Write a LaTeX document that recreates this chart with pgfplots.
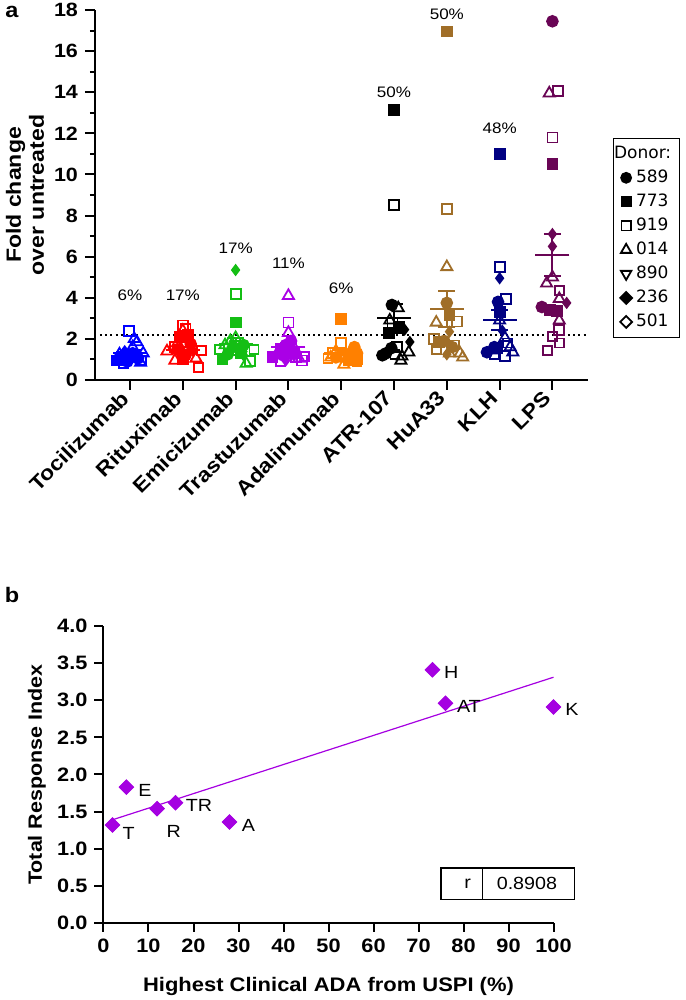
\documentclass[border=0pt]{standalone}
\usepackage{fontspec}
\setmainfont{Liberation Sans}[FakeStretch=1.12]
\newfontfamily\dejavu{DejaVu Sans}
\usepackage{pgfplots}
\pgfplotsset{compat=1.18}

\definecolor{cTOC}{RGB}{0,0,255}
\definecolor{cRIT}{RGB}{255,0,0}
\definecolor{cEMI}{RGB}{20,190,20}
\definecolor{cTRA}{RGB}{170,0,230}
\definecolor{cADA}{RGB}{255,128,0}
\definecolor{cATR}{RGB}{0,0,0}
\definecolor{cHUA}{RGB}{160,110,40}
\definecolor{cKLH}{RGB}{0,0,130}
\definecolor{cLPS}{RGB}{105,5,85}
\definecolor{cB}{RGB}{165,0,225}

\pgfplotsset{
  donors/.style={
    scatter, only marks, scatter src=explicit symbolic, line width=0.9pt,
    scatter/classes={
      A={mark=*, mark size=2.7pt},
      B={mark=square*, mark size=2.5pt},
      C={mark=square, mark size=2.5pt},
      D={mark=triangle, mark size=3.2pt},
      E={mark=triangle, mark size=3.2pt, mark options={rotate=180}},
      F={mark=diamond*, mark size=2.4pt},
      G={mark=square, mark size=2.25pt, mark options={rotate=45}}
    }
  },
  meanbar/.style={
    only marks, mark=-, mark size=8.5pt, line width=1pt,
    error bars/y dir=both, error bars/y explicit,
    error bars/error bar style={line width=1pt},
    error bars/error mark options={rotate=90, mark size=4.25pt, line width=1pt}
  },
  donorleg/.style={
    only marks, black, line width=0.9pt,
    legend image code/.code={\draw[mark repeat=2,mark phase=2,##1] plot coordinates {(0cm,0cm) (0.15cm,0cm) (0.3cm,0cm)};}
  }
}

\begin{document}
\begin{tikzpicture}
\useasboundingbox (0,0) rectangle (342.5pt,500pt);

\node[font=\bfseries\fontsize{10.5}{12}\selectfont] at (6pt,494pt) {a};
\node[font=\bfseries\fontsize{10.5}{12}\selectfont] at (6pt,202.5pt) {b};

% ---------------- panel a ----------------
\begin{axis}[
  at={(47.5pt,310pt)}, anchor=south west,
  scale only axis, width=246.5pt, height=185pt,
  xmin=-0.663, xmax=8.674, ymin=0, ymax=18,
  axis x line*=bottom, axis y line*=left,
  axis line style={line width=1pt},
  tick style={line width=1pt, black},
  tick align=outside,
  major tick length=5pt, minor tick length=2.5pt,
  xtick={0,1,2,3,4,5,6,7,8},
  xticklabels={Tocilizumab,Rituximab,Emicizumab,Trastuzumab,Adalimumab,ATR-107,HuA33,KLH,LPS},
  ytick={0,2,4,6,8,10,12,14,16,18},
  minor ytick={1,3,5,7,9,11,13,15,17},
  xticklabel style={rotate=45, anchor=east, font=\bfseries\fontsize{10.2}{12}\selectfont},
  yticklabel style={font=\bfseries\fontsize{9.6}{11}\selectfont},
  /pgf/number format/assume math mode=true,
  ylabel={Fold change\\over untreated},
  every axis y label/.style={at={(axis description cs:-0.142,0.5)}, rotate=90, anchor=center,
    align=center, font=\bfseries\fontsize{10.3}{11.5}\selectfont},
  clip=false,
  legend cell align=left,
  legend style={at={(1.0507,0.654)}, anchor=north west, draw=black, line width=0.6pt,
    font=\dejavu\fontsize{8.5}{10}\selectfont, row sep=0.6pt,
    nodes={inner ysep=1.8pt},
    inner xsep=2pt, inner ysep=2pt},
]
\addlegendimage{empty legend}\addlegendentry{\hspace*{-11pt}Donor:}
\addlegendimage{donorleg, mark=*, mark size=2.5pt}\addlegendentry{589}
\addlegendimage{donorleg, mark=square*, mark size=2.3pt}\addlegendentry{773}
\addlegendimage{donorleg, mark=square, mark size=2.3pt}\addlegendentry{919}
\addlegendimage{donorleg, mark=triangle, mark size=3pt}\addlegendentry{014}
\addlegendimage{donorleg, mark=triangle, mark size=3pt, mark options={rotate=180}}\addlegendentry{890}
\addlegendimage{donorleg, mark=square*, mark size=2.1pt, mark options={rotate=45}}\addlegendentry{236}
\addlegendimage{donorleg, mark=square, mark size=2.1pt, mark options={rotate=45}}\addlegendentry{501}

% threshold
\addplot[line width=1pt, dash pattern=on 1pt off 1.6pt] coordinates {(-0.57,2.19) (8.674,2.19)};

% Tocilizumab
\addplot[donors, color=cTOC] table[x=x, y=y, meta=d] {
x y d
-0.25 0.95 B
-0.15 1.10 B
-0.05 0.90 A
0.05 1.30 A
0.15 1.05 A
-0.02 2.38 C
0.10 1.20 C
-0.20 1.25 D
0.08 2.00 D
0.20 0.85 D
0.13 1.85 E
0.25 1.30 E
0.05 1.60 E
-0.10 1.40 F
0.00 1.15 F
0.18 1.10 F
-0.12 0.80 G
0.22 0.95 G
};
\addplot[color=cTOC, meanbar] coordinates {(0,1.3) +- (0,0.1)};

% Rituximab
\addplot[donors, color=cRIT] table[x=x, y=y, meta=d] {
x y d
0.90 1.50 A
1.05 1.20 A
1.15 1.75 A
0.95 2.10 B
1.10 2.20 B
1.00 1.00 B
1.00 2.65 C
1.05 2.50 C
0.85 1.60 C
0.70 1.40 D
0.85 0.95 D
1.25 1.05 D
1.00 2.40 E
1.10 1.55 E
0.90 1.80 E
1.20 1.40 F
0.95 1.30 F
1.30 0.60 G
1.35 1.45 G
};
\addplot[color=cRIT, meanbar] coordinates {(1,1.48) +- (0,0.13)};

% Emicizumab
\addplot[donors, color=cEMI] table[x=x, y=y, meta=d] {
x y d
2.00 5.35 F
2.00 4.20 C
2.00 2.80 B
1.75 1.00 B
2.10 1.30 B
1.95 1.60 A
2.15 1.70 A
1.85 1.25 A
2.27 0.92 C
2.05 1.45 C
2.20 0.80 D
1.90 1.90 D
2.00 2.05 E
2.10 1.55 E
1.80 1.70 E
1.70 1.50 G
2.35 1.50 G
2.15 1.20 F
};
\addplot[color=cEMI, meanbar] coordinates {(2,1.75) +- (0,0.27)};

% Trastuzumab
\addplot[donors, color=cTRA] table[x=x, y=y, meta=d] {
x y d
3.00 4.10 D
3.00 2.80 C
3.00 2.30 E
2.70 1.10 B
2.85 1.50 B
3.10 1.30 B
2.95 1.70 A
3.05 1.90 A
2.90 1.20 A
3.25 0.95 C
3.15 1.10 C
2.80 1.35 D
3.20 1.05 D
3.10 1.60 E
2.95 0.95 F
3.10 1.20 F
3.30 1.15 G
2.85 0.90 G
};
\addplot[color=cTRA, meanbar] coordinates {(3,1.62) +- (0,0.2)};

% Adalimumab
\addplot[donors, color=cADA] table[x=x, y=y, meta=d] {
x y d
4.00 2.95 B
4.00 1.80 C
4.25 1.60 A
4.30 1.30 A
3.90 1.10 A
4.15 0.95 B
4.30 1.00 B
3.85 1.30 C
4.10 1.15 C
4.05 0.75 D
3.80 1.10 D
4.20 1.25 D
3.90 1.40 E
4.10 1.05 E
3.95 1.20 F
4.15 1.35 F
3.75 1.05 G
4.30 0.90 G
};
\addplot[color=cADA, meanbar] coordinates {(4,1.32) +- (0,0.12)};

% ATR-107
\addplot[donors, color=cATR] table[x=x, y=y, meta=d] {
x y d
5.00 13.13 B
5.00 8.50 C
4.96 3.65 A
4.78 1.20 A
4.95 1.55 A
4.85 1.30 A
5.10 2.60 B
4.90 2.30 B
4.97 2.80 C
5.05 1.60 C
5.08 3.50 D
5.13 0.95 D
5.28 1.35 D
4.92 2.90 E
5.15 1.15 E
5.30 1.85 F
5.20 2.45 F
5.02 1.25 G
};
\addplot[color=cATR, meanbar] coordinates {(5,3.0) +- (0,0.7)};

% HuA33
\addplot[donors, color=cHUA] table[x=x, y=y, meta=d] {
x y d
6.00 16.95 B
6.00 8.30 C
6.00 5.50 D
6.00 3.75 A
5.95 1.90 A
6.10 1.60 A
6.05 3.15 B
5.85 1.85 B
5.80 2.80 E
6.20 2.85 C
5.75 2.00 C
6.05 2.35 F
6.00 1.25 F
6.05 1.30 D
6.30 1.10 D
6.25 1.30 E
5.80 1.50 G
6.15 1.70 G
};
\addplot[color=cHUA, meanbar] coordinates {(6,3.45) +- (0,0.88)};

% KLH
\addplot[donors, color=cKLH] table[x=x, y=y, meta=d] {
x y d
7.00 11.00 B
7.00 5.50 C
7.00 4.95 F
7.12 3.95 C
6.97 3.80 A
6.76 1.35 A
6.90 1.60 A
7.00 3.30 B
6.95 1.55 B
7.00 2.90 E
7.25 1.35 E
7.05 2.40 F
7.10 1.15 C
7.10 2.05 D
6.85 1.45 D
7.20 1.60 D
6.90 1.25 G
7.15 1.80 G
};
\addplot[color=cKLH, meanbar] coordinates {(7,2.92) +- (0,0.5)};

% LPS
\addplot[donors, color=cLPS] table[x=x, y=y, meta=d] {
x y d
8.00 17.45 A
7.94 13.95 D
8.10 14.05 C
8.00 11.80 C
8.00 10.50 B
8.00 7.10 F
8.00 6.50 F
8.00 5.00 E
7.89 4.70 E
8.13 4.35 G
8.13 3.95 D
8.27 3.75 F
7.80 3.55 A
7.95 3.40 B
8.08 3.35 B
8.13 2.90 D
8.13 2.45 C
8.00 2.10 G
8.13 1.80 G
7.90 1.45 G
};
\addplot[color=cLPS, meanbar] coordinates {(8,6.08) +- (0,1.0)};

\begin{scope}[font=\fontsize{7.6}{9}\selectfont]
\node at (axis cs:0,4.13) {6\%};
\node at (axis cs:1,4.13) {17\%};
\node at (axis cs:2,6.4) {17\%};
\node at (axis cs:3,5.7) {11\%};
\node at (axis cs:4,4.48) {6\%};
\node at (axis cs:5,14.0) {50\%};
\node at (axis cs:6,17.8) {50\%};
\node at (axis cs:7,12.25) {48\%};
\end{scope}
\end{axis}

% ---------------- panel b ----------------
\begin{axis}[
  at={(51.75pt,38.5pt)}, anchor=south west,
  scale only axis, width=225pt, height=148.5pt,
  xmin=0, xmax=100, ymin=0, ymax=4,
  axis x line*=bottom, axis y line*=left,
  axis line style={line width=1pt},
  tick style={line width=1pt, black},
  tick align=outside,
  major tick length=4.5pt,
  xtick={0,10,20,30,40,50,60,70,80,90,100},
  ytick={0,0.5,1,1.5,2,2.5,3,3.5,4},
  yticklabel style={/pgf/number format/.cd, fixed, fixed zerofill, precision=1},
  tick label style={font=\bfseries\fontsize{9.7}{11}\selectfont},
  /pgf/number format/assume math mode=true,
  xlabel={Highest Clinical ADA from USPI (\%)},
  ylabel={Total Response Index},
  every axis x label/.style={at={(axis description cs:0.5,-0.232)}, anchor=base,
    font=\bfseries\fontsize{9.8}{11}\selectfont},
  every axis y label/.style={at={(axis description cs:-0.148,0.5)}, rotate=90, anchor=center,
    font=\bfseries\fontsize{9.6}{11}\selectfont},
  clip=false,
]
\addplot[cB, line width=0.6pt] coordinates {(2,1.39) (100,3.31)};
\addplot[only marks, mark=square*, mark size=2.6pt, mark options={rotate=45}, color=cB] coordinates {
 (2,1.32) (5.1,1.83) (11.9,1.54) (16,1.62) (28,1.36) (73.1,3.41) (76,2.96) (100,2.91)
};
\begin{scope}[font=\fontsize{8.8}{10}\selectfont]
\node at (axis cs:77.3,3.37) {H};
\node at (axis cs:81.2,2.91) {AT};
\node at (axis cs:104.1,2.88) {K};
\node at (axis cs:9.2,1.79) {E};
\node at (axis cs:21.2,1.58) {TR};
\node at (axis cs:5.6,1.21) {T};
\node at (axis cs:15.6,1.23) {R};
\node at (axis cs:32.2,1.32) {A};
\end{scope}
\draw[line width=0.6pt] (axis cs:75,0.32) rectangle (axis cs:104.6,0.74);
\draw[line width=0.6pt] (axis cs:84.3,0.32) -- (axis cs:84.3,0.74);
\node[font=\fontsize{8.8}{10}\selectfont] at (axis cs:80.9,0.53) {r};
\node[font=\fontsize{8.8}{10}\selectfont] at (axis cs:94.1,0.53) {0.8908};
\end{axis}
\end{tikzpicture}
\end{document}
